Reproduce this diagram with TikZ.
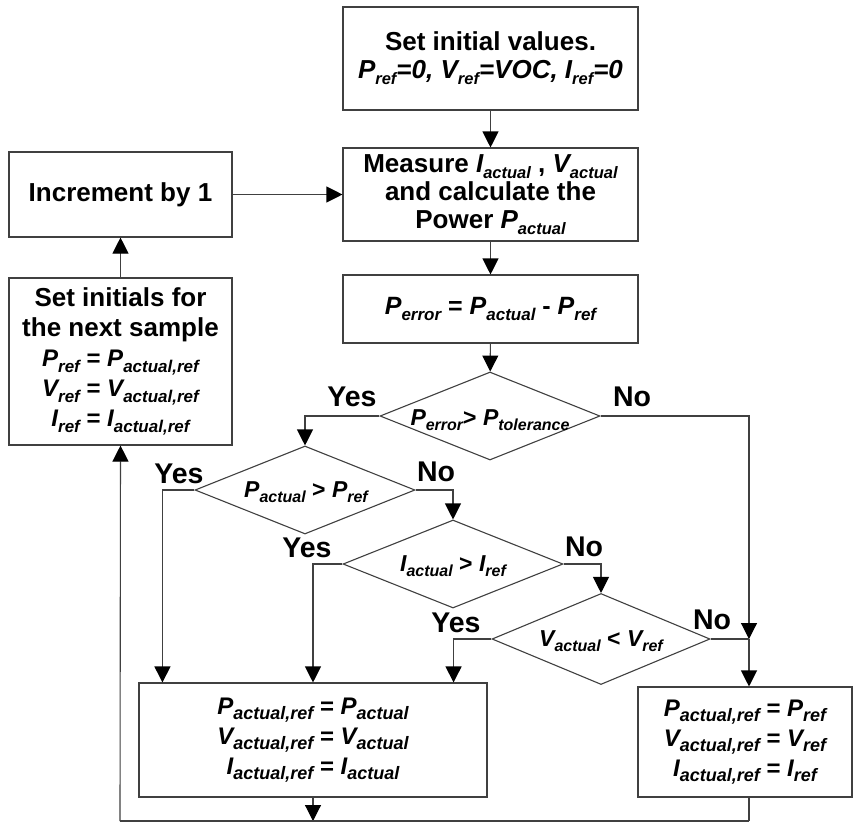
\documentclass[tikz,border=0pt]{standalone}
\usepackage{fontspec}
\setmainfont{Liberation Sans}
\usetikzlibrary{shapes.geometric,arrows.meta}
\definecolor{linec}{HTML}{404040}
\newcommand\vsub[3][15]{\textit{#2\raisebox{-0.22em}{\fontsize{#1}{#1}\selectfont #3}}}
\begin{document}
\begin{tikzpicture}[x=1pt,y=-1pt,
  box/.style={draw=linec, line width=1.1pt, rectangle, inner sep=0pt, align=center, font=\fontsize{26}{28}\selectfont\bfseries},
  eqbox/.style={box, font=\fontsize{24}{30}\selectfont\bfseries},
  dia/.style={draw=linec, line width=1.1pt, diamond, inner sep=0pt},
  diatext/.style={inner sep=0pt, font=\fontsize{23}{24}\selectfont\bfseries},
  lab/.style={font=\fontsize{28.5}{30}\selectfont\bfseries, inner sep=0pt, text height=20pt, text depth=0pt},
  arr/.style={draw=linec, line width=1.1pt, -{Triangle[width=16pt,length=16pt,color=black]}},
  ln/.style={draw=linec, line width=1.1pt}]
\fill[white] (0,0) rectangle (854,823);
\useasboundingbox (0,0) rectangle (854,823);

% boxes
\node[box, minimum width=295pt, minimum height=103pt] (b1) at (490.5,58.5)
  {Set initial values.\\ \vsub[16.5]{P}{ref}\textit{=0, }\vsub[16.5]{V}{ref}\textit{=VOC, }\vsub[16.5]{I}{ref}\textit{=0}};
\node[box, minimum width=295pt, minimum height=93pt] (b2) at (490.5,194.5)
  {Measure \vsub[16.5]{I}{actual} , \vsub[16.5]{V}{actual}\\ and calculate the\\ Power \vsub[16.5]{P}{actual}};
\node[box, minimum width=295pt, minimum height=68pt, font=\fontsize{25}{28}\selectfont\bfseries] (b3) at (490.5,309)
  {\vsub[17]{P}{error} = \vsub[17]{P}{actual} - \vsub[17]{P}{ref}};
\node[box, minimum width=223pt, minimum height=85pt] (inc) at (120.5,194.5) {Increment by 1};
\node[box, minimum width=223pt, minimum height=167pt, font=\fontsize{26}{30}\selectfont\bfseries] (si) at (120.5,361.5)
  {Set initials for\\ the next sample\\
   {\fontsize{24}{30}\selectfont \vsub[17]{P}{ref} = \vsub[17]{P}{actual,ref}}\\
   {\fontsize{24}{30}\selectfont \vsub[17]{V}{ref} = \vsub[17]{V}{actual,ref}}\\
   {\fontsize{24}{30}\selectfont \vsub[17]{I}{ref} = \vsub[17]{I}{actual,ref}}};
\node[eqbox, minimum width=348pt, minimum height=114pt] (b4) at (313,740)
  {\vsub[18]{P}{actual,ref} = \vsub[18]{P}{actual}\\ \vsub[18]{V}{actual,ref} = \vsub[18]{V}{actual}\\ \vsub[18]{I}{actual,ref} = \vsub[18]{I}{actual}};
\node[eqbox, minimum width=214pt, minimum height=110pt] (b5) at (745,742)
  {\vsub[18]{P}{actual,ref} = \vsub[18]{P}{ref}\\ \vsub[18]{V}{actual,ref} = \vsub[18]{V}{ref}\\ \vsub[18]{I}{actual,ref} = \vsub[18]{I}{ref}};

% decisions
\node[dia, minimum width=220pt, minimum height=88pt] (d1) at (490,416) {};
\node[diatext] (d1t) at (490,420) {\vsub[16]{P}{error}> \vsub[16]{P}{tolerance}};
\node[dia, minimum width=220pt, minimum height=88pt] (d2) at (305,490) {};
\node[diatext] (d2t) at (306,492) {\vsub[16]{P}{actual} > \vsub[16]{P}{ref}};
\node[dia, minimum width=220pt, minimum height=88pt] (d3) at (453,564) {};
\node[diatext] (d3t) at (453,566) {\vsub[16]{I}{actual} > \vsub[16]{I}{ref}};
\node[dia, minimum width=218pt, minimum height=91pt] (d4) at (601,639) {};
\node[diatext] (d4t) at (601,641) {\vsub[16]{V}{actual} < \vsub[16]{V}{ref}};

% labels
\node[lab] (y1) at (352,396) {Yes};
\node[lab] (n1) at (632,396) {No};
\node[lab] (y2) at (179,473) {Yes};
\node[lab] (n2) at (436,471) {No};
\node[lab] (y3) at (307,547) {Yes};
\node[lab] (n3) at (584,546) {No};
\node[lab] (y4) at (456,622) {Yes};
\node[lab] (n4) at (712,619) {No};

% junction coordinates
\coordinate (j) at (749,639);
\coordinate (bl) at (120,821);
\coordinate (bm) at (313,821);
\coordinate (br) at (749,821);

% connectors
\draw[arr] (b1) -- (b2);
\draw[arr] (b2) -- (b3);
\draw[arr] (b3) -- (d1);
\draw[arr] (inc.east) -- (b2.west);
\draw[arr] (si) -- (inc);
\draw[arr] (d1.west) -| (d2.north);
\draw[arr] (d1.east) -| (j);
\draw[ln] (d4.east) -- (j);
\draw[arr] (j) -- (j |- b5.north);
\draw[arr] (d2.west) -| ([xshift=24pt]b4.north west);
\draw[arr] (d2.east) -| (d3.north);
\draw[arr] (d3.west) -| (b4.north);
\draw[arr] (d3.east) -| (d4.north);
\draw[arr] (d4.west) -| ([xshift=-34pt]b4.north east);
\draw[arr] (b4.south) -- (bm);
\draw[ln] (j |- b5.south) -- (br);
\draw[ln] (br) -- (bl);
\draw[arr] (bl) -- (si.south);
\end{tikzpicture}
\end{document}
